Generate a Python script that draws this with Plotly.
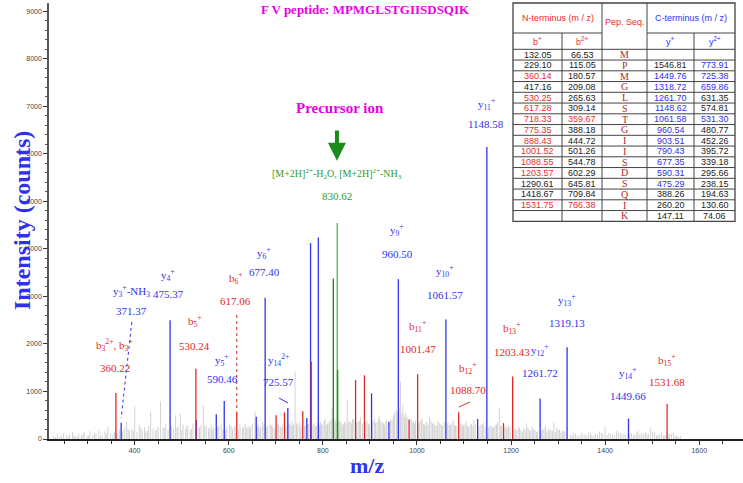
import plotly.graph_objects as go

# ---------------- data ----------------
noise_mz = [228, 236, 241, 249, 255, 262, 268, 274, 281, 287, 293, 299, 305, 311, 318, 324, 331, 337, 343, 349, 354,
            357, 364, 368, 375, 379, 383, 389, 394, 400, 405, 410, 416, 421, 427, 434, 439, 444, 450, 455, 460, 466, 471, 478,
            483, 487, 492, 497, 503, 508, 513, 518, 524, 535, 541, 546, 552, 557, 563, 568, 579, 584, 596, 602, 608, 612, 624, 629, 635, 641, 646, 650,
            656, 663, 668, 672, 683, 688, 693, 706, 711, 730, 735, 741, 746, 750, 763, 770, 781, 786, 795, 800, 805, 810, 815, 820, 826, 836, 841, 846,
            852, 858, 863, 875, 880, 894, 899, 910, 915, 920, 926, 931, 936, 947, 952, 956, 965, 970, 975, 979, 988, 993, 997,
            1006, 1011, 1016, 1021, 1027, 1033, 1038, 1044, 1049, 1054, 1066, 1071, 1077, 1082, 1094, 1099, 1105, 1110, 1116, 1121, 1136, 1141, 1155, 1160, 1166, 1171, 1175, 1180, 1190, 1195,
            1209, 1215, 1221, 1227, 1233, 1239, 1245, 1251, 1256, 1267, 1273, 1279, 1285, 1291, 1297, 1303, 1309, 1314,
            1326, 1333, 1341, 1349, 1357, 1365, 1372, 1380, 1388, 1395, 1400, 1408, 1416, 1424, 1432, 1440, 1456, 1463, 1470, 1478, 1486, 1492, 1497, 1505, 1512, 1520, 1527, 1537, 1545, 1552, 1560]
noise_int = [60, 110, 45, 130, 70, 95, 150, 55, 120, 80, 140, 60, 165, 90, 110, 200, 75, 160, 260, 120, 90,
             150, 120, 200, 170, 240, 365, 180, 210, 680, 150, 300, 190, 250, 170, 575, 220, 180, 260, 785, 230, 310, 200, 270,
             220, 500, 260, 540, 300, 210, 280, 190, 330, 240, 290, 710, 260, 220, 300, 240, 280, 330, 260, 310, 220, 280, 300, 240, 330, 280, 260, 320,
             575, 300, 260, 350, 280, 330, 260, 300, 250, 330, 380, 1415, 300, 360, 280, 320, 330, 280, 350, 300, 420, 330, 380, 650, 420, 380, 300, 360,
             820, 380, 420, 360, 450, 380, 330, 420, 360, 480, 350, 300, 400, 380, 560, 620, 1200, 720, 560, 480, 420, 380, 400,
             380, 430, 300, 360, 470, 330, 290, 380, 320, 280, 350, 300, 400, 280, 330, 300, 380, 260, 320, 400, 300, 340, 280, 240, 300, 350, 650, 280, 260, 300,
             220, 260, 180, 240, 330, 200, 260, 190, 160, 200, 280, 220, 180, 350, 240, 200, 180, 160,
             90, 120, 70, 130, 100, 150, 80, 120, 160, 110, 260, 130, 90, 170, 140, 110, 130, 90, 180, 120, 150, 110, 250, 160, 90, 130, 80, 110, 140, 70, 60]

noise2_mz = [232, 245, 259, 271, 278, 290, 302, 315, 327, 340,
             361, 372, 386, 397, 413, 424, 430, 447, 463,
             490, 500, 511, 521, 529, 538, 549, 560, 566, 576, 588, 593, 605, 615, 621, 632, 638, 644,
             661, 666, 675, 680, 691, 697, 703, 709, 714, 722, 728, 733, 738, 744, 753, 756, 761, 768, 779, 784, 789, 793, 797, 803, 808, 813, 818, 824, 828, 834, 839, 844, 849,
             855, 861, 866, 872, 878, 884, 891, 897, 906, 912, 918, 923, 929, 934, 944, 950, 958, 962, 968, 973, 977, 985, 991, 995,
             1003, 1009, 1014, 1019, 1024, 1030, 1036, 1041, 1047, 1052, 1058, 1064, 1069, 1074, 1080, 1085, 1092, 1097, 1102, 1108, 1113, 1119, 1124, 1132, 1139, 1145, 1152, 1158, 1163, 1169, 1178, 1187, 1193, 1198,
             1206, 1212, 1218, 1224, 1230, 1236, 1242, 1248, 1254, 1264, 1270, 1276, 1282, 1288, 1294, 1300, 1306, 1312,
             1330, 1337, 1345, 1353, 1361, 1369, 1376, 1384, 1392, 1404, 1412, 1420, 1428, 1436, 1444, 1452, 1460, 1467, 1474, 1482, 1489, 1501, 1509, 1516, 1524, 1534, 1541, 1549, 1556]
noise2_int = [40, 80, 50, 90, 60, 100, 70, 120, 60, 110,
              110, 140, 200, 170, 230, 160, 280, 200, 240,
              230, 190, 260, 210, 180, 250, 300, 230, 200, 260, 210, 190, 280, 240, 200, 260, 230, 210,
              260, 220, 300, 240, 280, 230, 310, 260, 290, 250, 320, 270, 300, 340, 260, 310, 280, 330, 300, 270, 350, 290, 320, 380, 300, 350, 420, 370, 330, 400, 360, 310, 340,
              360, 330, 400, 350, 380, 320, 360, 300, 390, 340, 420, 380, 330, 370, 420, 500, 560, 640, 540, 470, 440, 380, 350, 330,
              340, 400, 310, 350, 300, 380, 330, 280, 340, 300, 360, 320, 290, 340, 300, 270, 320, 280, 310, 260, 300, 280, 320, 270, 300, 260, 240, 280, 250, 300, 270, 250, 230, 260,
              200, 180, 230, 160, 200, 240, 170, 210, 150, 180, 220, 160, 200, 170, 150, 190, 140, 160,
              80, 110, 60, 100, 90, 120, 70, 100, 130, 90, 110, 80, 140, 100, 90, 110, 80, 130, 90, 110, 100, 140, 80, 100, 70, 90, 110, 60, 50]

blue_mz = [371.37, 475.37, 531.0, 573.5, 590.46, 658.5, 677.40, 725.57, 766.0, 773.91, 790.43, 903.51, 940.5,
           960.50, 1061.57, 1129.0, 1148.58, 1261.72, 1319.13, 1449.66]
blue_int = [340, 2500, 400, 520, 800, 470, 2970, 650, 440, 4120, 4240, 960, 365,
            3360, 2515, 420, 6140, 850, 1930, 430]

red_mz = [360.22, 530.24, 617.06, 700.6, 718.5, 757.4, 775.35, 869.6, 888.43, 983.3, 1001.47, 1088.70, 1184.0, 1203.43, 1531.68]
red_int = [965, 1475, 575, 500, 560, 585, 1625, 1240, 1340, 410, 1365, 560, 335, 1315, 735]

green_mz = [822.3, 830.62]
green_int = [3375, 4545]
green2_mz = [831.4]
green2_int = [1450]

x_ticks = [400, 600, 800, 1000, 1200, 1400, 1600]
y_ticks = [0, 1000, 2000, 3000, 4000, 5000, 6000, 7000, 8000, 9000]

# table data
pep_seq = list("MPMGLSTGIISDSQIK")
b_single = ["132.05", "229.10", "360.14", "417.16", "530.25", "617.28", "718.33", "775.35", "888.43", "1001.52",
            "1088.55", "1203.57", "1290.61", "1418.67", "1531.75", ""]
b_double = ["66.53", "115.05", "180.57", "209.08", "265.63", "309.14", "359.67", "388.18", "444.72", "501.26",
            "544.78", "602.29", "645.81", "709.84", "766.38", ""]
y_single = ["", "1546.81", "1449.76", "1318.72", "1261.70", "1148.62", "1061.58", "960.54", "903.51", "790.43",
            "677.35", "590.31", "475.29", "388.26", "260.20", "147.11"]
y_double = ["", "773.91", "725.38", "659.86", "631.35", "574.81", "531.30", "480.77", "452.26", "395.72",
            "339.18", "295.66", "238.15", "194.63", "130.60", "74.06"]
b_single_hit = [0, 0, 1, 0, 1, 1, 1, 1, 1, 1, 1, 1, 0, 0, 1, 0]
b_double_hit = [0, 0, 0, 0, 0, 0, 1, 0, 0, 0, 0, 0, 0, 0, 1, 0]
y_single_hit = [0, 0, 1, 1, 1, 1, 1, 1, 1, 1, 1, 1, 1, 0, 0, 0]
y_double_hit = [0, 1, 1, 1, 0, 0, 1, 0, 0, 0, 0, 0, 0, 0, 0, 0]

# ---------------- styling ----------------
RED = "#e02828"
BLUE = "#3232f0"
GRAY = "#c8c8c8"
GREEN = "#1e8c1e"
LGREEN = "#5cc05c"
MAG = "#e600e6"
SERIF = "Liberation Serif, Times New Roman, serif"
SANS = "Liberation Sans, Arial, sans-serif"

X_RANGE = [218, 1693]
Y_RANGE = [0, 9170]
PL, PR, PT, PB = 49, 743, 3, 439


def sticks(mz, inten):
    xs, ys = [], []
    for m, i in zip(mz, inten):
        xs += [m, m, None]
        ys += [0, i, None]
    return xs, ys


fig = go.Figure()
for mz, it, col, w in [(noise_mz, noise_int, GRAY, 0.8),
                       (noise2_mz, noise2_int, GRAY, 0.8),
                       (blue_mz, blue_int, BLUE, 1.3),
                       (red_mz, red_int, RED, 1.3),
                       (green_mz[1:], green_int[1:], LGREEN, 1.4),
                       (green_mz[:1], green_int[:1], GREEN, 1.4),
                       (green2_mz, green2_int, GREEN, 1.4)]:
    xs, ys = sticks(mz, it)
    fig.add_trace(go.Scatter(x=xs, y=ys, mode="lines", line=dict(color=col, width=w),
                             hoverinfo="skip", showlegend=False))

# ---------------- peak labels ----------------
labels = [
    ("b<sub>3</sub><sup>2+</sup>, b<sub>3</sub><sup>+</sup>", "360.22", RED, 358, 1977, 1493),
    ("y<sub>3</sub><sup>+</sup>-NH<sub>3</sub>", "371.37", BLUE, 394, 3112, 2692),
    ("y<sub>4</sub><sup>+</sup>", "475.37", BLUE, 471, 3449, 3049),
    ("b<sub>5</sub><sup>+</sup>", "530.24", RED, 528, 2482, 1956),
    ("y<sub>5</sub><sup>+</sup>", "590.46", BLUE, 586, 1661, 1262),
    ("b<sub>6</sub><sup>+</sup>", "617.06", RED, 615, 3386, 2902),
    ("y<sub>6</sub><sup>+</sup>", "677.40", BLUE, 675, 3912, 3512),
    ("y<sub>14</sub><sup>2+</sup>", "725.57", BLUE, 705, 1661, 1199),
    ("y<sub>9</sub><sup>+</sup>", "960.50", BLUE, 958, 4395, 3891),
    ("y<sub>10</sub><sup>+</sup>", "1061.57", BLUE, 1060, 3533, 3028),
    ("y<sub>11</sub><sup>+</sup>", "1148.58", BLUE, 1147, 7045, 6624),
    ("b<sub>11</sub><sup>+</sup>", "1001.47", RED, 1002, 2376, 1893),
    ("b<sub>12</sub><sup>+</sup>", "1088.70", RED, 1109, 1493, 1030),
    ("b<sub>13</sub><sup>+</sup>", "1203.43", RED, 1202, 2334, 1830),
    ("y<sub>12</sub><sup>+</sup>", "1261.72", BLUE, 1262, 1872, 1388),
    ("y<sub>13</sub><sup>+</sup>", "1319.13", BLUE, 1319, 2923, 2439),
    ("y<sub>14</sub><sup>+</sup>", "1449.66", BLUE, 1449, 1388, 904),
    ("b<sub>15</sub><sup>+</sup>", "1531.68", RED, 1531, 1661, 1199),
]
ann = []
for t1, t2, col, x, ya, yb in labels:
    for t, yy in ((t1, ya), (t2, yb)):
        ann.append(dict(x=x, y=yy, xref="x", yref="y", text=t, showarrow=False,
                        font=dict(family=SERIF, size=11, color=col), xanchor="center", yanchor="middle"))

# precursor
ann.append(dict(x=830, y=5573, xref="x", yref="y", showarrow=False, xanchor="center", yanchor="middle",
                text="[M+2H]<sup>2+</sup>-H<sub>2</sub>O, [M+2H]<sup>2+</sup>-NH<sub>3</sub>",
                font=dict(family=SERIF, size=10, color="#2e9a2e")))
ann.append(dict(x=830, y=5110, xref="x", yref="y", showarrow=False, text="830.62", xanchor="center", yanchor="middle",
                font=dict(family=SERIF, size=11, color="#2e9a2e")))
ann.append(dict(x=836, y=6961, xref="x", yref="y", showarrow=False, text="<b>Precursor ion</b>",
                xanchor="center", yanchor="middle", font=dict(family=SERIF, size=15, color=MAG)))
ann.append(dict(x=830, y=5850, ax=830, ay=6520, xref="x", yref="y", axref="x", ayref="y",
                showarrow=True, arrowhead=2, arrowsize=0.9, arrowwidth=4, arrowcolor="#1a8a1a", text=""))


def fx(px):
    return (px - PL) / (PR - PL)


def fy(py):
    return (PB - py) / (PB - PT)


def paper_text(text, px, py, size, color, family=SERIF, angle=0):
    ann.append(dict(x=fx(px), y=fy(py), xref="paper", yref="paper", showarrow=False, text=text,
                    textangle=angle, xanchor="center", yanchor="middle",
                    font=dict(family=family, size=size, color=color)))


# titles
paper_text("<b>F V peptide: MPMGLSTGIISDSQIK</b>", 365, 10, 13, MAG)
paper_text("<b>Intensity (counts)</b>", 22, 221, 24, "#3030f0", angle=-90)
paper_text("<b>m/z</b>", 367, 466, 22, "#3030f0")

# connector lines
shapes = [
    dict(type="line", xref="x", yref="y", x0=394, y0=2461, x1=371.4, y1=442, line=dict(color=BLUE, width=1, dash="dot")),
    dict(type="line", xref="x", yref="y", x0=617.06, y0=2608, x1=617.06, y1=610, line=dict(color=RED, width=1, dash="dot")),
    dict(type="line", xref="x", yref="y", x0=707, y0=862, x1=726, y1=757, line=dict(color=BLUE, width=1)),
    dict(type="line", xref="x", yref="y", x0=1089, y0=673, x1=1113, y1=778, line=dict(color=RED, width=1)),
]

# ---------------- table ----------------
cols = [513, 562, 602, 647, 694, 735]
h0, h1, h2 = 3, 33, 49.3
rh = 10.75
nrows = len(pep_seq)
bottom = h2 + rh * nrows
LC = "#444444"
shapes.append(dict(type="rect", xref="paper", yref="paper", x0=fx(cols[0]), x1=fx(cols[-1]), y0=fy(bottom), y1=fy(h0),
                   fillcolor="white", line=dict(color=LC, width=1.3), layer="above"))
seg = [(cols[0], h1, cols[2], h1), (cols[3], h1, cols[5], h1)]
for r in range(nrows):
    yy = h2 + r * rh
    seg.append((cols[0], yy, cols[5], yy))
seg.append((cols[1], h1, cols[1], bottom))
seg.append((cols[2], h0, cols[2], bottom))
seg.append((cols[3], h0, cols[3], bottom))
seg.append((cols[4], h1, cols[4], bottom))
for sx0, sy0, sx1, sy1 in seg:
    shapes.append(dict(type="line", xref="paper", yref="paper", x0=fx(sx0), y0=fy(sy0), x1=fx(sx1), y1=fy(sy1),
                       line=dict(color=LC, width=1), layer="above"))


def cell(text, c, yc, color, size=9, family=SANS):
    paper_text(text, (cols[c] + cols[c + 1]) / 2, yc, size, color, family=family)


TRED = "#f02a2a"
TBLUE = "#2f2ff5"
TBLK = "#222222"
paper_text("N-terminus (m / z)", (cols[0] + cols[2]) / 2, (h0 + h1) / 2, 9, TRED, family=SANS)
paper_text("C-terminus (m / z)", (cols[3] + cols[5]) / 2, (h0 + h1) / 2, 9, TBLUE, family=SANS)
paper_text("Pep. Seq.", (cols[2] + cols[3]) / 2, (h0 + h2) / 2 - 4, 9, TRED, family=SANS)
cell("b<sup>+</sup>", 0, (h1 + h2) / 2, TRED)
cell("b<sup>2+</sup>", 1, (h1 + h2) / 2, TRED)
cell("y<sup>+</sup>", 3, (h1 + h2) / 2, TBLUE)
cell("y<sup>2+</sup>", 4, (h1 + h2) / 2, TBLUE)
for r in range(nrows):
    yc = h2 + (r + 0.5) * rh
    cell(b_single[r], 0, yc, TRED if b_single_hit[r] else TBLK)
    cell(b_double[r], 1, yc, TRED if b_double_hit[r] else TBLK)
    cell(pep_seq[r], 2, yc, "#b02828", size=10, family=SERIF)
    cell(y_single[r], 3, yc, TBLUE if y_single_hit[r] else TBLK)
    cell(y_double[r], 4, yc, TBLUE if y_double_hit[r] else TBLK)

fig.update_layout(
    width=743, height=483,
    margin=dict(l=PL, r=743 - PR, t=PT, b=483 - PB),
    paper_bgcolor="white", plot_bgcolor="white",
    annotations=ann, shapes=shapes,
    xaxis=dict(range=X_RANGE, tickvals=x_ticks, showgrid=False, zeroline=False,
               showline=True, linecolor="#222222", linewidth=1.5,
               ticks="outside", ticklen=4, tickcolor="#333333",
               tickfont=dict(family=SANS, size=7, color="#444444"),
               minor=dict(dtick=50, tick0=0, ticks="outside", ticklen=3, tickcolor="#333333")),
    yaxis=dict(range=Y_RANGE, tickvals=y_ticks, showgrid=False, zeroline=False,
               showline=True, linecolor="#555555", linewidth=1.5,
               ticks="outside", ticklen=4, tickcolor="#333333",
               tickfont=dict(family=SANS, size=7, color="#444444"),
               minor=dict(dtick=200, tick0=0, ticks="outside", ticklen=2, tickcolor="#555555")),
)

fig.write_html("out.html", config={"displayModeBar": False},
               post_script="document.body.style.margin='0px';")
